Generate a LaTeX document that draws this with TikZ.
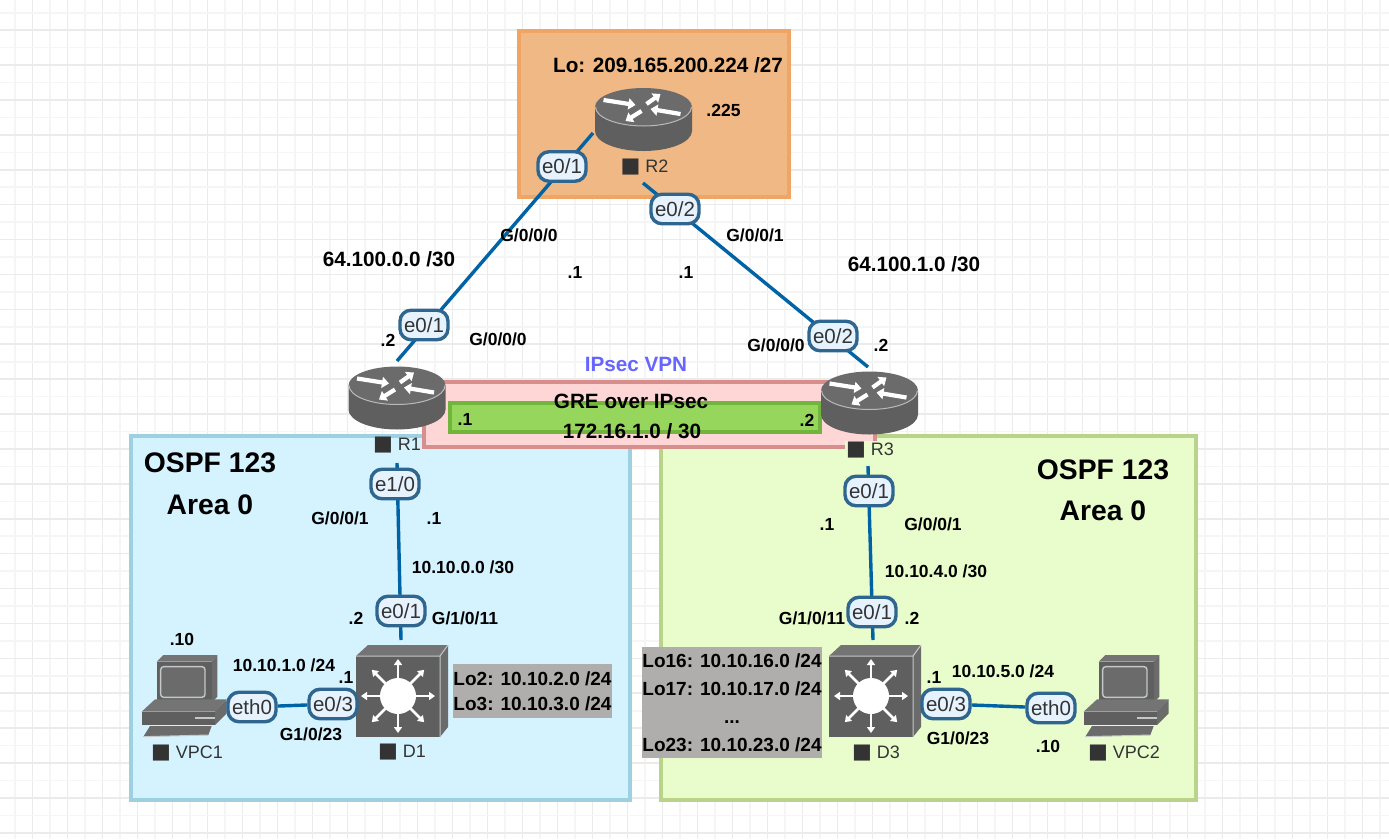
\documentclass[tikz,border=0pt]{standalone}
\usepackage{fontspec}
\setmainfont{Liberation Sans}
\newfontfamily\symfont{DejaVu Sans}
\usetikzlibrary{arrows.meta}
\definecolor{linkblue}{HTML}{0063A6}
\definecolor{pillline}{HTML}{2F668F}
\definecolor{pillfill}{HTML}{E6F3FF}
\definecolor{darktxt}{HTML}{333333}
\definecolor{icA}{HTML}{5F5F5F}
\definecolor{icB}{HTML}{6B6B6B}
\definecolor{icC}{HTML}{747474}
\definecolor{icL}{HTML}{C4C8C8}
\newcommand{\fs}[1]{\fontsize{#1}{#1}\selectfont}
\newcommand{\sq}{{\symfont\fontsize{21}{21}\selectfont ■}}
\tikzset{
  lbl/.style={inner sep=0pt,font=\fs{17.5}\bfseries,text=black},
  lblbig/.style={inner sep=0pt,font=\fs{20.7}\bfseries,text=black},
  lblhuge/.style={inner sep=0pt,font=\fs{28.3}\bfseries,text=black},
  lblloop/.style={inner sep=0pt,font=\fs{19}\bfseries,text=black,align=center},
  devlbl/.style={inner sep=1pt,font=\fs{18},text=darktxt},
  pill/.style={draw=pillline,line width=3.4pt,fill=pillfill,rounded corners=11pt,minimum width=48pt,minimum height=29.5pt,inner sep=0pt,font=\fs{20.5},text=darktxt},
  link/.style={draw=linkblue,line width=3.4pt},
  areabox/.style={line width=4.5pt},
  routericon/.pic={
    \fill[fill=icA] (-48.5,-12) -- (-48.5,12) arc[start angle=180,end angle=0,x radius=48.5,y radius=20] -- (48.5,-12) -- cycle;
    \fill[fill=icB] (0,-12) ellipse[x radius=48.5,y radius=19];
    \draw[white,opacity=.55,line width=1pt] (-48,-12) arc[start angle=180,end angle=0,x radius=48,y radius=19];
    \begin{scope}[white,line width=4.2pt,-{Triangle[width=11pt,length=7pt]}]
      \draw (-40,-19) -- (-8,-14);
      \draw (37,-5) -- (7,-10);
      \draw (3,-15) -- (17,-25);
      \draw (-2,-8) -- (-18,2);
    \end{scope}
  },
  switchicon/.pic={
    \fill[fill=icC] (-42,-40) -- (-30,-51) -- (50,-51) -- (42,-40) -- cycle;
    \fill[fill=icB] (42,-40) -- (50,-51) -- (50,31) -- (42,41) -- cycle;
    \fill[fill=icA] (-42,-40) rectangle (42,41);
    \draw[icL,line width=1pt] (-42,-40) -- (42,-40) -- (42,41) (42,-40) -- (50,-51);
    \fill[white] (0,0) circle[radius=18];
    \foreach \a/\r in {0/37,45/37,90/37,135/37,180/37,225/37,270/37,315/37}
      \draw[white,line width=2.6pt,-{Triangle[width=8pt,length=6pt]}] (\a:15) -- (\a:\r);
  },
  pcicon/.pic={
    \begin{scope}[scale=1/3]
      \fill[fill=icC] (80,125) -- (100,105) -- (262,105) -- (245,125) -- cycle;
      \fill[fill=icB] (245,125) -- (262,105) -- (262,230) -- (245,248) -- cycle;
      \fill[fill=icA] (80,125) rectangle (245,248);
      \draw[icL,line width=1.4pt,rounded corners=3pt,fill=icB] (92,140) rectangle (225,232);
      \fill[fill=icC] (75,238) -- (35,275) -- (255,275) -- (290,238) -- cycle;
      \fill[fill=icA] (35,275) rectangle (255,315);
      \fill[fill=icB] (255,275) -- (290,238) -- (290,280) -- (255,315) -- cycle;
      \fill[icL] (195,290) rectangle (255,297);
      \fill[fill=icB] (60,318) -- (245,318) -- (235,345) -- (40,350) -- cycle;
      \draw[icL,line width=1pt] (40,350) -- (235,345);
    \end{scope}
  },
}
\begin{document}
\begin{tikzpicture}[x=1pt,y=-1pt]
\useasboundingbox (0,0) rectangle (1389,839);
\fill[white] (0,0) rectangle (1389,839);
% grid
\foreach \k in {0,...,78} {
  \pgfmathsetmacro{\gx}{15+17.5*\k}
  \pgfmathtruncatemacro{\odd}{mod(\k,2)}
  \ifnum\odd=1 \draw[line width=1.6pt,color=black!8] (\gx,0) -- (\gx,839);
  \else \draw[line width=1.6pt,color=black!4] (\gx,0) -- (\gx,839); \fi
}
\foreach \k in {0,...,47} {
  \pgfmathsetmacro{\gy}{12.7+17.45*\k}
  \pgfmathtruncatemacro{\odd}{mod(\k,2)}
  \ifnum\odd=1 \draw[line width=1.6pt,color=black!8] (0,\gy) -- (1389,\gy);
  \else \draw[line width=1.6pt,color=black!4] (0,\gy) -- (1389,\gy); \fi
}
% areas
\draw[areabox,draw={rgb,255:red,240;green,165;blue,101},fill={rgb,255:red,239;green,184;blue,132}] (519,31) rectangle (789,197);
\draw[areabox,draw={rgb,255:red,157;green,208;blue,224},fill={rgb,255:red,213;green,243;blue,255}] (131,436) rectangle (630,800);
\draw[areabox,draw={rgb,255:red,185;green,212;blue,138},fill={rgb,255:red,233;green,253;blue,204}] (661,436) rectangle (1196,800);
\draw[areabox,draw={rgb,255:red,217;green,142;blue,142},fill={rgb,255:red,255;green,214;blue,214}] (424,382) rectangle (875,447);
\draw[line width=4pt,draw={rgb,255:red,114;green,181;blue,60},fill={rgb,255:red,151;green,214;blue,92}] (450,403) rectangle (820,432);
% end points of connectors
\coordinate (R2a) at (593,133);
\coordinate (R1a) at (397,361);
\coordinate (R2b) at (643,183);
\coordinate (R3a) at (868,367);
\coordinate (R1b) at (397,463);
\coordinate (D1a) at (401,640);
\coordinate (R3b) at (868,466);
\coordinate (D3a) at (873,640);
% connectors
\draw[link] (R2a) -- (R1a);
\draw[link] (R2b) -- (R3a);
\draw[link] (R1b) -- (D1a);
\draw[link] (R3b) -- (D3a);
% grey loopback boxes
\node[lblloop,fill={rgb,255:red,176;green,174;blue,172},minimum width=159pt,minimum height=54pt] (loopA) at (532.5,691) {Lo2: 10.10.2.0 /24\\[6pt]Lo3: 10.10.3.0 /24};
\node[lblloop,fill={rgb,255:red,176;green,174;blue,172},minimum width=180pt,minimum height=111pt] (loopB) at (732,702.5) {Lo16: 10.10.16.0 /24\\[9pt]Lo17: 10.10.17.0 /24\\[9pt]...\\[9pt]Lo23: 10.10.23.0 /24};
% device icons
\coordinate (R1) at (397,397.5);
\coordinate (R2) at (643.5,119);
\coordinate (R3) at (869.5,402.5);
\coordinate (D1) at (398,696);
\coordinate (D3) at (871,696);
\coordinate (VPC1) at (130,620);
\coordinate (VPC2) at (1072,620);
\pic at (R1) {routericon};
\pic at (R2) {routericon};
\pic at (R3) {routericon};
\pic at (D1) {switchicon};
\pic at (D3) {switchicon};
\pic at (VPC1) {pcicon};
\pic at (VPC2) {pcicon};
% device labels
\node[devlbl] (nR1) at (397,445) {\sq\ R1};
\node[devlbl] (nR2) at (644.5,167) {\sq\ R2};
\node[devlbl,fill={rgb,255:red,233;green,253;blue,204}] (nR3) at (870,450) {\sq\ R3};
\node[devlbl] (nD1) at (402,752.5) {\sq\ D1};
\node[devlbl] (nD3) at (876,753.5) {\sq\ D3};
\node[devlbl] (nV1) at (187,753.5) {\sq\ VPC1};
\node[devlbl] (nV2) at (1124,753.5) {\sq\ VPC2};
% interface pills
\node[pill] (p1) at (562,166.5) {e0/1};
\node[pill] (p2) at (675,209) {e0/2};
\node[pill] (p3) at (424,325) {e0/1};
\node[pill] (p4) at (833,336) {e0/2};
\node[pill] (p5) at (395,484) {e1/0};
\node[pill] (p6) at (401,611) {e0/1};
\node[pill] (p7) at (869,491) {e0/1};
\node[pill] (p8) at (872,612) {e0/1};
\node[pill] (p9) at (252,707) {eth0};
\node[pill] (p10) at (333,704) {e0/3};
\node[pill] (p11) at (946,704) {e0/3};
\node[pill] (p12) at (1051,708) {eth0};
\draw[link] (p9) -- (p10);
\draw[link] (p11) -- (p12);
% labels
\node[lblbig] (t01) at (668,65) {Lo: 209.165.200.224 /27};
\node[lbl] (t02) at (723.5,110) {.225};
\node[lblbig] (t03) at (389,259) {64.100.0.0 /30};
\node[lblbig] (t04) at (914,264) {64.100.1.0 /30};
\node[lbl] (t05) at (529,235) {G/0/0/0};
\node[lbl] (t06) at (755,235) {G/0/0/1};
\node[lbl] (t07) at (575,272) {.1};
\node[lbl] (t08) at (686,272) {.1};
\node[lbl] (t09) at (388,340) {.2};
\node[lbl] (t10) at (498,339) {G/0/0/0};
\node[lbl] (t11) at (776,345) {G/0/0/0};
\node[lbl] (t12) at (881,345) {.2};
\node[lblbig,text={rgb,255:red,102;green,102;blue,255}] (t13) at (636,364) {IPsec VPN};
\node[lblbig] (t14) at (631,401) {GRE over IPsec};
\node[lblbig] (t15) at (632,431) {172.16.1.0 / 30};
\node[lbl] (t16) at (465,419) {.1};
\node[lbl] (t17) at (807,420) {.2};
\node[lblhuge] (t18) at (210,463) {OSPF 123};
\node[lblhuge] (t19) at (210,505) {Area 0};
\node[lblhuge] (t20) at (1103,470) {OSPF 123};
\node[lblhuge] (t21) at (1103,511) {Area 0};
\node[lbl] (t22) at (340,518) {G/0/0/1};
\node[lbl] (t23) at (434,518) {.1};
\node[lbl] (t24) at (463,567) {10.10.0.0 /30};
\node[lbl] (t25) at (356,618) {.2};
\node[lbl] (t26) at (465,618) {G/1/0/11};
\node[lbl] (t27) at (182,639) {.10};
\node[lbl] (t28) at (284,665) {10.10.1.0 /24};
\node[lbl] (t29) at (346,677) {.1};
\node[lbl] (t30) at (311,734) {G1/0/23};
\node[lbl] (t31) at (827,524) {.1};
\node[lbl] (t32) at (933,524) {G/0/0/1};
\node[lbl] (t33) at (936,571) {10.10.4.0 /30};
\node[lbl] (t34) at (812,618) {G/1/0/11};
\node[lbl] (t35) at (912,618) {.2};
\node[lbl] (t36) at (934,677) {.1};
\node[lbl] (t37) at (1003,671) {10.10.5.0 /24};
\node[lbl] (t38) at (958,738) {G1/0/23};
\node[lbl] (t39) at (1048,746) {.10};
\end{tikzpicture}
\end{document}
